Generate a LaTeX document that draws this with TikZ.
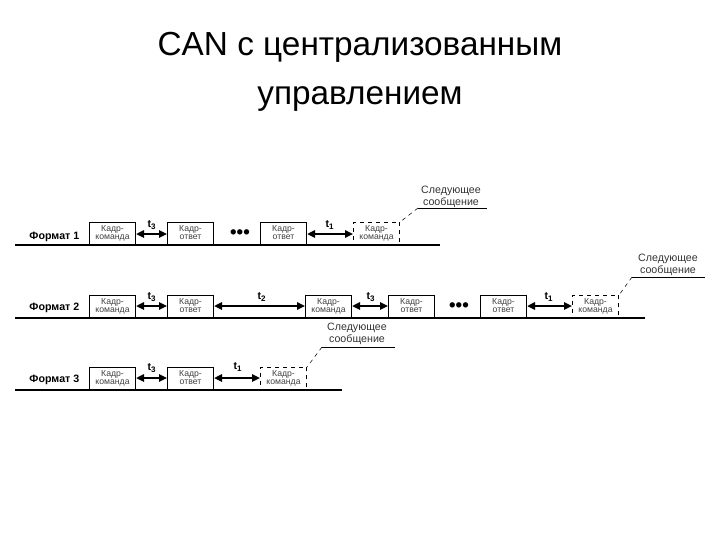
\documentclass[tikz,border=0pt]{standalone}
\usepackage{fontspec}
\setmainfont{Liberation Sans}
\newcommand{\otv}{ответ\vphantom{д}}
\begin{document}
\begin{tikzpicture}[x=0.75pt,y=-0.75pt,
  fr/.style={draw,thick,minimum width=34.5pt,minimum height=16.5pt,inner sep=1pt,align=center,font=\fontsize{6.5}{6.5}\selectfont,text=black!75},
  frd/.style={fr,dashed},
  bus/.style={line width=1.6pt},
  dur/.style={line width=1.6pt,{Triangle[length=6pt,width=5.5pt]}-{Triangle[length=6pt,width=5.5pt]}},
  tl/.style={font=\bfseries\fontsize{8}{8}\selectfont},
  fmt/.style={font=\bfseries\fontsize{8}{8}\selectfont,anchor=east},
  nx/.style={font=\fontsize{8}{9}\selectfont,align=center,text=black!80},
  dots/.style={font=\bfseries\fontsize{14}{14}\selectfont}]
\usetikzlibrary{arrows.meta}
\useasboundingbox (0,0) rectangle (720,540);
\node[font=\fontsize{25}{37}\selectfont,align=center] (title) at (360,72) {CAN с централизованным\\управлением};
% Row 1
\coordinate (b1s) at (15,245); \coordinate (b1e) at (440,245);
\draw[bus] (b1s) -- (b1e);
\node[fmt] (f1) at (84,237) {Формат 1};
\node[fr,anchor=south west] (a1) at (89,245) {Кадр-\\команда};
\node[fr,anchor=south west] (a2) at (167,245) {Кадр-\\\otv};
\node[dots] (d1) at (240,234) {•••};
\node[fr,anchor=south west] (a3) at (260,245) {Кадр-\\\otv};
\node[frd,anchor=south west] (a4) at (353,245) {Кадр-\\команда};
\draw[dur] (a1.east|-0,234) -- (a2.west|-0,234);
\node[tl] at (152,225) {t\textsubscript{3}};
\draw[dur] (a3.east|-0,234) -- (a4.west|-0,234);
\node[tl] at (330,225) {t\textsubscript{1}};
\node[nx] (n1) at (451,197) {Следующее\\сообщение};
\coordinate (u1a) at (418,208); \coordinate (u1b) at (487,208);
\draw (u1a) -- (u1b);
\draw[dashed] (u1a) -- (a4.north east);
% Row 2
\coordinate (b2s) at (15,318); \coordinate (b2e) at (645,318);
\draw[bus] (b2s) -- (b2e);
\node[fmt] (f2) at (84,308) {Формат 2};
\node[fr,anchor=south west] (c1) at (89,318) {Кадр-\\команда};
\node[fr,anchor=south west] (c2) at (167,318) {Кадр-\\\otv};
\node[fr,anchor=south west] (c3) at (305,318) {Кадр-\\команда};
\node[fr,anchor=south west] (c4) at (388,318) {Кадр-\\\otv};
\node[dots] (d2) at (459,307) {•••};
\node[fr,anchor=south west] (c5) at (480,318) {Кадр-\\\otv};
\node[frd,anchor=south west] (c6) at (572,318) {Кадр-\\команда};
\draw[dur] (c1.east|-0,306) -- (c2.west|-0,306);
\node[tl] at (152,297) {t\textsubscript{3}};
\draw[dur] (c2.east|-0,306) -- (c3.west|-0,306);
\node[tl] at (262,297) {t\textsubscript{2}};
\draw[dur] (c3.east|-0,306) -- (c4.west|-0,306);
\node[tl] at (371,297) {t\textsubscript{3}};
\draw[dur] (c5.east|-0,306) -- (c6.west|-0,306);
\node[tl] at (549,297) {t\textsubscript{1}};
\node[nx] (n2) at (668,265) {Следующее\\сообщение};
\coordinate (u2a) at (632,277); \coordinate (u2b) at (705,277);
\draw (u2a) -- (u2b);
\draw[dashed] (u2a) -- (c6.north east);
% Row 3
\coordinate (b3s) at (15,390); \coordinate (b3e) at (342,390);
\draw[bus] (b3s) -- (b3e);
\node[fmt] (f3) at (84,380) {Формат 3};
\node[fr,anchor=south west] (e1) at (89,390) {Кадр-\\команда};
\node[fr,anchor=south west] (e2) at (167,390) {Кадр-\\\otv};
\node[frd,anchor=south west] (e3) at (260,390) {Кадр-\\команда};
\draw[dur] (e1.east|-0,378) -- (e2.west|-0,378);
\node[tl] at (152,368) {t\textsubscript{3}};
\draw[dur] (e2.east|-0,378) -- (e3.west|-0,378);
\node[tl] at (238,367) {t\textsubscript{1}};
\node[nx] (n3) at (357,334) {Следующее\\сообщение};
\coordinate (u3a) at (322,347); \coordinate (u3b) at (395,347);
\draw (u3a) -- (u3b);
\draw[dashed] (u3a) -- (e3.north east);
\end{tikzpicture}
\end{document}
